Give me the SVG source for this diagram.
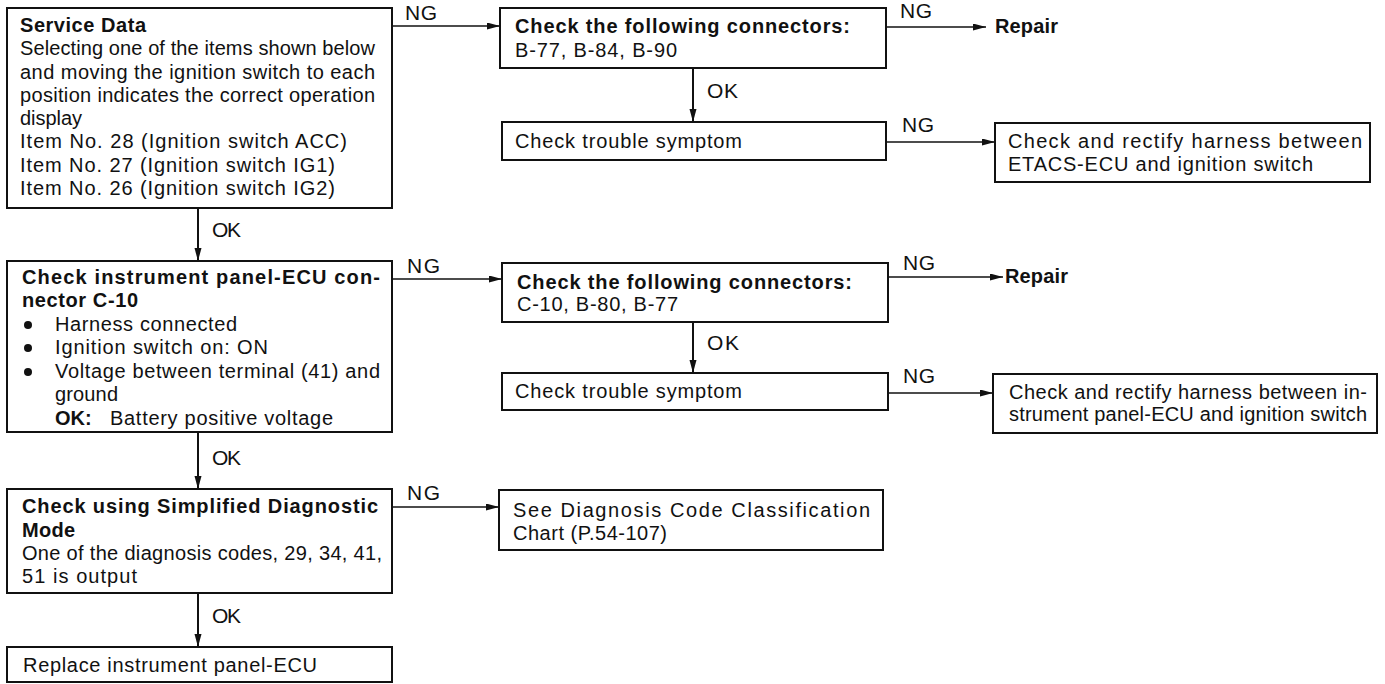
<svg xmlns="http://www.w3.org/2000/svg" width="1385" height="684" viewBox="0 0 1385 684">
  <style>
    text { font-family: "Liberation Sans", Arial, sans-serif; font-size: 20px; fill: #111; }
    .b { font-weight: bold; }
    .lbl { font-size: 21px; }
    .box { fill: #fff; stroke: #111; stroke-width: 2; }
    .h { stroke: #111; stroke-width: 1.5; fill: none; }
    .v { stroke: #111; stroke-width: 2; fill: none; }
  </style>
  <defs>
    <marker id="arr" markerUnits="userSpaceOnUse" markerWidth="14" markerHeight="8" refX="13" refY="3.5" orient="auto">
      <path d="M0,0 L13,3.5 L0,7 z" fill="#111"/>
    </marker>
  </defs>
  <rect width="1385" height="684" fill="#fff"/>

  <!-- connectors -->
  <g id="connectors">
    <line class="h" x1="392" y1="26" x2="500" y2="26" marker-end="url(#arr)"/>
    <line class="h" x1="886" y1="27" x2="986" y2="27" marker-end="url(#arr)"/>
    <line class="v" x1="693" y1="68" x2="693" y2="122" marker-end="url(#arr)"/>
    <line class="h" x1="886" y1="142" x2="995" y2="142" marker-end="url(#arr)"/>
    <line class="v" x1="198" y1="208" x2="198" y2="261" marker-end="url(#arr)"/>
    <line class="h" x1="392" y1="279" x2="502" y2="279" marker-end="url(#arr)"/>
    <line class="h" x1="888" y1="277" x2="1003" y2="277" marker-end="url(#arr)"/>
    <line class="v" x1="693" y1="322" x2="693" y2="373" marker-end="url(#arr)"/>
    <line class="h" x1="888" y1="393" x2="993" y2="393" marker-end="url(#arr)"/>
    <line class="v" x1="198" y1="432" x2="198" y2="489" marker-end="url(#arr)"/>
    <line class="h" x1="392" y1="507" x2="499" y2="507" marker-end="url(#arr)"/>
    <line class="v" x1="198" y1="593" x2="198" y2="647" marker-end="url(#arr)"/>

    <text class="lbl" x="405" y="20" textLength="32">NG</text>
    <text class="lbl" x="900" y="18" textLength="32">NG</text>
    <text class="lbl" x="902" y="132" textLength="32">NG</text>
    <text class="lbl" x="407" y="273" textLength="33">NG</text>
    <text class="lbl" x="903" y="270" textLength="32">NG</text>
    <text class="lbl" x="903" y="383" textLength="32">NG</text>
    <text class="lbl" x="407" y="500" textLength="33">NG</text>

    <text class="lbl" x="707" y="98" textLength="31">OK</text>
    <text class="lbl" x="212" y="237" textLength="29">OK</text>
    <text class="lbl" x="707" y="350" textLength="32">OK</text>
    <text class="lbl" x="212" y="465" textLength="29">OK</text>
    <text class="lbl" x="212" y="623" textLength="29">OK</text>
  </g>

  <g id="service-data">
    <rect class="box" x="7" y="8" width="385" height="200"/>
    <text class="b" x="20" y="32" textLength="126">Service Data</text>
    <text x="20" y="55" textLength="355">Selecting one of the items shown below</text>
    <text x="20" y="79" textLength="355">and moving the ignition switch to each</text>
    <text x="20" y="102" textLength="355">position indicates the correct operation</text>
    <text x="20" y="125" textLength="62">display</text>
    <text x="20" y="148" textLength="327">Item No. 28 (Ignition switch ACC)</text>
    <text x="20" y="172" textLength="315">Item No. 27 (Ignition switch IG1)</text>
    <text x="20" y="195" textLength="315">Item No. 26 (Ignition switch IG2)</text>
  </g>

  <g id="check-connectors-b">
    <rect class="box" x="500" y="8" width="386" height="60"/>
    <text class="b" x="515" y="33" textLength="335">Check the following connectors:</text>
    <text x="515" y="57" textLength="162">B-77, B-84, B-90</text>
  </g>

  <g id="repair-1">
    <text class="b" x="995" y="33" textLength="63">Repair</text>
  </g>

  <g id="trouble-symptom-1">
    <rect class="box" x="502" y="122" width="384" height="38"/>
    <text x="515" y="148" textLength="227">Check trouble symptom</text>
  </g>

  <g id="rectify-etacs">
    <rect class="box" x="995" y="123" width="375" height="59"/>
    <text x="1008" y="148" textLength="354">Check and rectify harness between</text>
    <text x="1008" y="171" textLength="305">ETACS-ECU and ignition switch</text>
  </g>

  <g id="check-c10">
    <rect class="box" x="7" y="261" width="385" height="171"/>
    <text class="b" x="22" y="284" textLength="358">Check instrument panel-ECU con-</text>
    <text class="b" x="22" y="307" textLength="116">nector C-10</text>
    <circle cx="28" cy="325" r="4" fill="#111"/>
    <text x="55" y="331" textLength="182">Harness connected</text>
    <circle cx="28" cy="348" r="4" fill="#111"/>
    <text x="55" y="354" textLength="213">Ignition switch on: ON</text>
    <circle cx="28" cy="372" r="4" fill="#111"/>
    <text x="55" y="378" textLength="325">Voltage between terminal (41) and</text>
    <text x="55" y="401" textLength="63">ground</text>
    <text class="b" x="55" y="425">OK:</text>
    <text x="110" y="425" textLength="223">Battery positive voltage</text>
  </g>

  <g id="check-connectors-c">
    <rect class="box" x="502" y="263" width="386" height="59"/>
    <text class="b" x="517" y="289" textLength="335">Check the following connectors:</text>
    <text x="517" y="311" textLength="161">C-10, B-80, B-77</text>
  </g>

  <g id="repair-2">
    <text class="b" x="1005" y="283" textLength="63">Repair</text>
  </g>

  <g id="trouble-symptom-2">
    <rect class="box" x="502" y="373" width="386" height="37"/>
    <text x="515" y="398" textLength="227">Check trouble symptom</text>
  </g>

  <g id="rectify-panel">
    <rect class="box" x="993" y="374" width="384" height="59"/>
    <text x="1009" y="399" textLength="358">Check and rectify harness between in-</text>
    <text x="1009" y="421" textLength="358">strument panel-ECU and ignition switch</text>
  </g>

  <g id="simplified-mode">
    <rect class="box" x="7" y="489" width="385" height="104"/>
    <text class="b" x="22" y="513" textLength="356">Check using Simplified Diagnostic</text>
    <text class="b" x="22" y="537" textLength="53">Mode</text>
    <text x="22" y="560" textLength="360">One of the diagnosis codes, 29, 34, 41,</text>
    <text x="22" y="583" textLength="115">51 is output</text>
  </g>

  <g id="code-chart">
    <rect class="box" x="499" y="490" width="384" height="60"/>
    <text x="513" y="517" textLength="357">See Diagnosis Code Classification</text>
    <text x="513" y="540" textLength="154">Chart (P.54-107)</text>
  </g>

  <g id="replace-ecu">
    <rect class="box" x="7" y="647" width="385" height="35"/>
    <text x="23" y="672" textLength="294">Replace instrument panel-ECU</text>
  </g>
</svg>
